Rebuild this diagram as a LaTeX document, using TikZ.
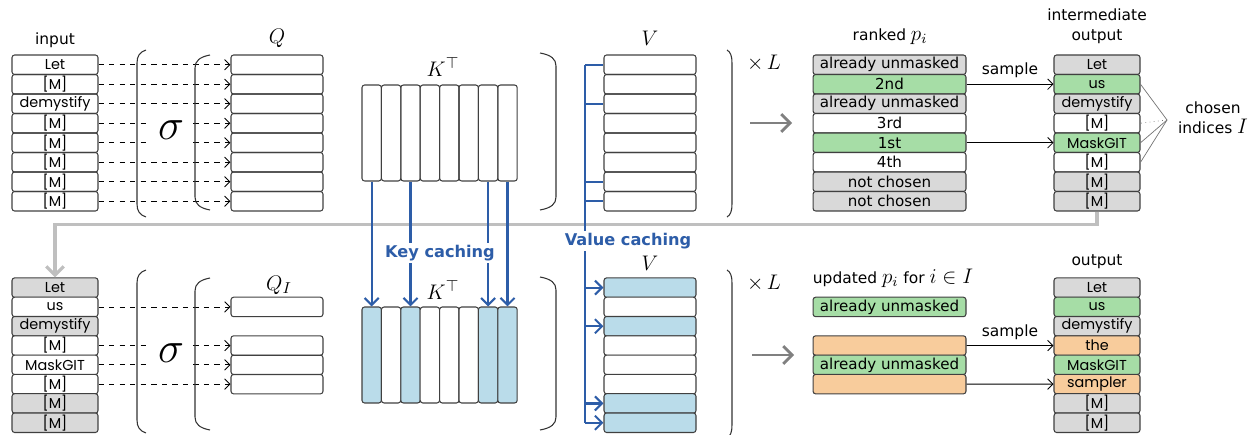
\documentclass[tikz,border=0pt]{standalone}
\usepackage{fontspec}
\setmainfont{DejaVu Sans}
\newfontfamily\tokfont{Poppins}
\usetikzlibrary{arrows.meta}

\definecolor{gryF}{HTML}{D9D9D9}
\definecolor{grnF}{HTML}{A6DDA6}
\definecolor{orgF}{HTML}{F8CC9C}
\definecolor{bluF}{HTML}{BADCEA}
\definecolor{cacheblue}{HTML}{2D5DA8}
\definecolor{fbgray}{HTML}{BFBFBF}

% big round brackets: x, top y, bottom y, bulge
\newcommand{\parenL}[4]{%
  \draw[par] (#1+#4,#2) .. controls (#1+0.3*#4,#2+2) and (#1,#2+6) .. (#1,#2+13)
    -- (#1,#3-13) .. controls (#1,#3-6) and (#1+0.3*#4,#3-2) .. (#1+#4,#3);}
\newcommand{\parenR}[4]{%
  \draw[par] (#1-#4,#2) .. controls (#1-0.3*#4,#2+2) and (#1,#2+6) .. (#1,#2+13)
    -- (#1,#3-13) .. controls (#1,#3-6) and (#1-0.3*#4,#3-2) .. (#1-#4,#3);}
% math inside small labels, set a bit larger
\newcommand{\mth}[1]{{\fontsize{11.5}{12}\selectfont$#1$}}

\tikzset{
  box/.style={draw=black!75, line width=0.6pt, rounded corners=1.5pt, inner sep=0pt, minimum height=0.39cm},
  tok/.style={box, minimum width=1.72cm, font=\tokfont\fontsize{8.2}{9}\selectfont},
  rk/.style={box, minimum width=3.06cm, font=\fontsize{8.6}{9}\selectfont},
  qrow/.style={box, minimum width=1.84cm},
  kcol/.style={box, minimum width=0.388cm, minimum height=1.92cm},
  lbl/.style={font=\fontsize{8.8}{11.3}\selectfont},
  mlbl/.style={font=\fontsize{13}{15}\selectfont},
  dsh/.style={dashed, line width=0.5pt, -{Straight Barb[length=3pt,width=6pt]}},
  samp/.style={line width=0.5pt, -{Straight Barb[length=3pt,width=6pt]}},
  cache/.style={cacheblue, line width=1.2pt},
  cachearr/.style={cache, -{Straight Barb[length=4pt,width=8pt]}},
  cachelbl/.style={cacheblue, fill=white, inner sep=1pt, font=\bfseries\fontsize{9.2}{10}\selectfont},
  par/.style={line width=0.6pt, black!80},
  sig/.style={fill=white, minimum width=0.86cm, minimum height=0.9cm, inner sep=0pt, font=\fontsize{26}{28}\selectfont},
  fback/.style={fbgray, line width=1.8pt, -{Straight Barb[length=5pt,width=10pt]}},
  bigarr/.style={black!50, line width=1.6pt, -{Straight Barb[length=5pt,width=10pt]}},
  pick/.style={black!55, line width=0.4pt},
}

\begin{document}
\begin{tikzpicture}[x=0.02cm, y=-0.02cm]
\useasboundingbox (0,0) rectangle (1250,435);

%% first pass
\node[lbl] (inlbl) at (55,40) {input};
\foreach \t [count=\i] in {Let,[M],demystify,[M],[M],[M],[M],[M]}
  \node[tok] (in\i) at (55,45.25+19.5*\i) {\t};
\foreach \i in {1,...,8}
  \node[qrow] (q\i) at (277,45.25+19.5*\i) {};
\foreach \i in {1,...,8}
  \draw[dsh] (in\i) -- (q\i);
\node[sig] (sig1) at (171,130) {$\sigma$};
\node[mlbl] (qlbl) at (277,38) {$Q$};

\foreach \j in {1,...,8}
  \node[kcol] (kt\j) at (352.3+19.4*\j,133) {};
\node[mlbl] (ktlbl) at (443,67) {$K^{\top}$};

\foreach \i in {1,...,8}
  \node[qrow] (vt\i) at (650,45.25+19.5*\i) {};
\node[mlbl] (vtlbl) at (650,38) {$V$};

\parenL{137}{50}{217}{9}
\parenL{195}{55}{210}{15}
\parenR{556}{53}{210}{16}
\parenR{732}{50}{217}{5}
\node[mlbl] (xl1) at (764,63) {$\times\,L$};

\coordinate (ga1) at (750,123);
\draw[bigarr] (ga1) -- ++(42,0);

\node[lbl] (rklbl) at (890,37) {ranked \mth{p_i}};
\foreach \t/\c [count=\i] in {already unmasked/gryF,2nd/grnF,already unmasked/gryF,3rd/white,1st/grnF,4th/white,not chosen/gryF,not chosen/gryF}
  \node[rk, fill=\c] (rk\i) at (889.5,45.25+19.5*\i) {\t};

\node[lbl, align=center] (iolbl) at (1097,26) {intermediate\\output};
\foreach \t/\c [count=\i] in {Let/gryF,us/grnF,demystify/gryF,[M]/white,MaskGIT/grnF,[M]/white,[M]/gryF,[M]/gryF}
  \node[tok, fill=\c] (io\i) at (1097,45.25+19.5*\i) {\t};

\draw[samp] (rk2) -- node[lbl, above] {sample} (io2);
\draw[samp] (rk5) -- (io5);

\coordinate (chs) at (1167,120);
\draw[pick] (chs) -- (io2.east);
\draw[pick, dotted] (chs) -- (io4.east);
\draw[pick] (chs) -- (io5.east);
\draw[pick] (chs) -- (io6.east);
\node[lbl, align=center] (chlbl) at (1213,118) {chosen\\indices \mth{I}};

%% second pass
\foreach \t/\c [count=\i] in {Let/gryF,us/white,demystify/gryF,[M]/white,MaskGIT/white,[M]/white,[M]/gryF,[M]/gryF}
  \node[tok, fill=\c] (bin\i) at (55,268.35+19.3*\i) {\t};
\draw[fback] (io8.south) -- ++(0,13) -| (bin1.north);

\foreach \i in {2,4,5,6}
  \node[qrow] (qi\i) at (277,268.35+19.3*\i) {};
\foreach \i in {2,4,5,6}
  \draw[dsh] (bin\i) -- (qi\i);
\node[sig] (sig2) at (171,353) {$\sigma$};
\node[mlbl] (qilbl) at (279,285) {$Q_I$};

\foreach \j/\c in {1/bluF,2/white,3/bluF,4/white,5/white,6/white,7/bluF,8/bluF}
  \node[kcol, fill=\c] (kb\j) at (352.3+19.4*\j,355) {};
\node[mlbl] (kblbl) at (443,290) {$K^{\top}$};

\foreach \c [count=\i] in {bluF,white,bluF,white,white,white,bluF,bluF}
  \node[qrow, fill=\c] (vb\i) at (650,268.35+19.3*\i) {};
\node[mlbl] (vblbl) at (650,263) {$V$};

\parenL{137}{270}{433}{9}
\parenL{195}{278}{430}{15}
\parenR{556}{277}{430}{16}
\parenR{732}{270}{438}{5}
\node[mlbl] (xl2) at (764,283) {$\times\,L$};

\coordinate (ga2) at (752,355);
\draw[bigarr] (ga2) -- ++(42,0);

\node[lbl] (rulbl) at (893,278) {updated \mth{p_i} for \mth{i\in I}};
\node[rk, fill=grnF] (ru2) at (889.5,306.95) {already unmasked};
\node[rk, fill=orgF] (ru4) at (889.5,345.55) {};
\node[rk, fill=grnF] (ru5) at (889.5,364.85) {already unmasked};
\node[rk, fill=orgF] (ru6) at (889.5,384.15) {};

\node[lbl] (oblbl) at (1097,262) {output};
\foreach \t/\c [count=\i] in {Let/gryF,us/grnF,demystify/gryF,the/orgF,MaskGIT/grnF,sampler/orgF,[M]/gryF,[M]/gryF}
  \node[tok, fill=\c] (ob\i) at (1097,268.35+19.3*\i) {\t};

\draw[samp] (ru4) -- node[lbl, above] {sample} (ob4);
\draw[samp] (ru6) -- (ob6);

%% caching
\foreach \j in {1,3,7,8}
  \draw[cachearr] (kt\j) -- (kb\j);
\coordinate (vbar) at (585,0);
\draw[cache] (vbar |- vt1.west) -- (vbar |- vb8.west);
\foreach \i in {1,3,7,8}
  \draw[cache] (vbar |- vt\i.west) -- (vt\i.west);
\foreach \i in {1,3,7,8}
  \draw[cachearr] (vbar |- vb\i.west) -- (vb\i.west);
\node[cachelbl] (kclbl) at (440,253) {Key caching};
\node[cachelbl] (vclbl) at (628,241) {Value caching};
\end{tikzpicture}
\end{document}
